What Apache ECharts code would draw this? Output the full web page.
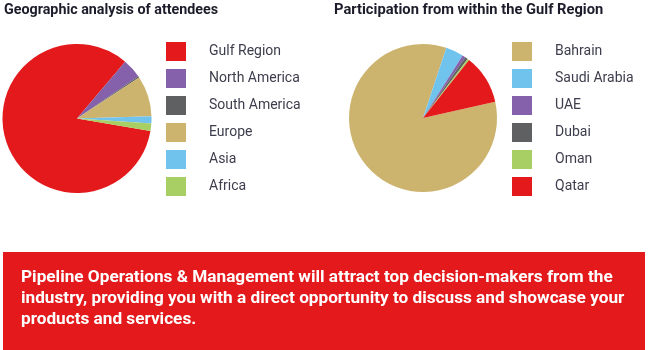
<!DOCTYPE html>
<html>
<head>
<meta charset="utf-8">
<script src="https://cdn.jsdelivr.net/npm/echarts@6/dist/echarts.min.js"></script>
<style>
html,body{margin:0;padding:0;background:#fff;}
#c{width:649px;height:350px;}
</style>
</head>
<body>
<div id="c"></div>
<script>
const geoCategories = ['Gulf Region', 'North America', 'South America', 'Europe', 'Asia', 'Africa'];
const geoValues = [83.5, 4.2, 0.3, 8.8, 1.6, 1.6];
const geoColors = ['#e3191c', '#8561ab', '#5f6062', '#cdb46e', '#6fc3ec', '#a8cf63'];

const gulfCategories = ['Bahrain', 'Saudi Arabia', 'UAE', 'Dubai', 'Oman', 'Qatar'];
const gulfValues = [83.6, 3.9, 0.7, 0.6, 0.4, 10.8];
const gulfColors = ['#cdb46e', '#6fc3ec', '#8561ab', '#5f6062', '#a8cf63', '#e3191c'];

const titleLeft = 'Geographic analysis of attendees';
const titleRight = 'Participation from within the Gulf Region';
const bannerLines = [
  'Pipeline Operations & Management will attract top decision-makers from the',
  'industry, providing you with a direct opportunity to discuss and showcase your',
  'products and services.'
];

const chart = echarts.init(document.getElementById('c'), null, {renderer: 'canvas'});
const font = 'Roboto, "DejaVu Sans", sans-serif';

function pieData(cats, vals, cols) {
  return cats.map((n, i) => ({name: n, value: vals[i], itemStyle: {color: cols[i]}}));
}

const legendBase = {
  orient: 'vertical',
  icon: 'rect',
  padding: 0,
  itemWidth: 20,
  itemHeight: 19,
  itemGap: 8,
  selectedMode: false,
  textStyle: {fontFamily: font, fontSize: 14, color: '#3d3d4d', padding: [0, 0, 0, 18]}
};

chart.setOption({
  animation: false,
  title: [
    {text: titleLeft, left: 4, top: 3, padding: 0, textStyle: {fontFamily: font, fontSize: 14.3, fontWeight: 'bold', color: '#1c1c2a'}},
    {text: titleRight, left: 334, top: 3, padding: 0, textStyle: {fontFamily: font, fontSize: 14.7, fontWeight: 'bold', color: '#1c1c2a'}}
  ],
  legend: [
    Object.assign({}, legendBase, {left: 166, top: 42, data: geoCategories}),
    Object.assign({}, legendBase, {left: 512, top: 42, data: gulfCategories})
  ],
  series: [
    {
      type: 'pie', center: [77, 118.5], radius: 74.5, startAngle: -9.7, clockwise: true,
      label: {show: false}, labelLine: {show: false}, silent: true,
      itemStyle: {borderWidth: 0},
      data: pieData(geoCategories, geoValues, geoColors)
    },
    {
      type: 'pie', center: [423, 118], radius: 74, startAngle: 12.6, clockwise: true,
      label: {show: false}, labelLine: {show: false}, silent: true,
      itemStyle: {borderWidth: 0},
      data: pieData(gulfCategories, gulfValues, gulfColors)
    }
  ],
  graphic: [
    {type: 'rect', shape: {x: 3, y: 252, width: 642, height: 98}, style: {fill: '#e3191c'}, silent: true},
    {type: 'text', left: 21, top: 267, silent: true,
     style: {text: bannerLines.join('\n'), fill: '#ffffff', font: 'bold 17.2px ' + font, lineHeight: 21}}
  ]
});
</script>
</body>
</html>
